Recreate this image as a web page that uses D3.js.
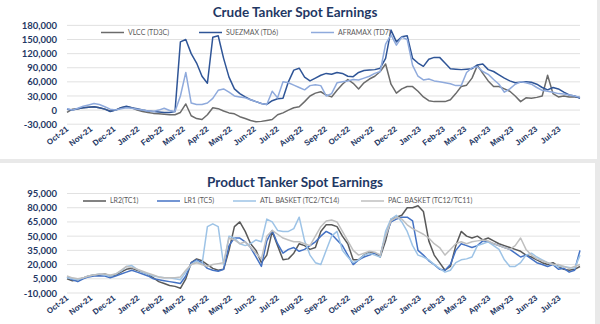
<!DOCTYPE html>
<html><head><meta charset="utf-8">
<script src="https://cdn.jsdelivr.net/npm/d3@7"></script>
<style>
html,body{margin:0;padding:0;background:#e9e9e9;}
svg{display:block;font-family:Lato,"Open Sans",sans-serif;}
</style></head><body>
<svg id="c" width="600" height="324"></svg>
<script>
// ---------- DATA (weekly, starting 1 Oct 2021) ----------
const startDate = "2021-10-01";
const endDate = "2023-07-28";
const crudeTitle = "Crude Tanker Spot Earnings";
const productTitle = "Product Tanker Spot Earnings";
const crudeSeriesNames = ["VLCC (TD3C)", "SUEZMAX (TD6)", "AFRAMAX (TD7)"];
const productSeriesNames = ["LR2(TC1)", "LR1 (TC5)", "ATL. BASKET (TC2/TC14)", "PAC. BASKET (TC12/TC11)"];
const crudeTicks = [-30000, 0, 30000, 60000, 90000, 120000, 150000, 180000];
const productTicks = [-10000, 5000, 20000, 35000, 50000, 65000, 80000, 95000];

// values in $ thousand / day
const vlcc = [-5,2,3,5,6,7,5,2,-2,0,5,7,5,0,-3,-5,-7,-8,-9,-10,-10,-5,13,-12,-18,-20,-10,5,3,-2,
  -6,-8,-14,-18,-22,-25,-24,-22,-20,-10,-6,0,5,7,18,30,36,39,32,28,42,55,65,57,45,58,66,72,82,98,
  55,36,45,50,50,40,28,20,18,18,18,22,35,50,53,68,95,78,62,50,50,45,40,30,18,26,25,27,30,74,
  35,28,30,28,28,27];
const suezmax = [2,0,3,5,6,7,5,2,-3,0,5,8,5,3,0,-2,-3,-4,-5,-5,-3,145,150,120,100,72,57,155,158,110,
  70,45,35,28,22,18,14,12,20,24,25,60,85,89,70,62,68,74,78,76,80,78,72,71,80,84,85,86,89,110,
  170,145,156,158,110,100,93,108,112,112,100,88,87,86,87,88,96,98,86,82,75,68,62,58,59,60,59,55,48,43,
  48,45,38,32,30,25];
const aframax = [3,0,4,8,11,14,12,7,2,0,3,5,4,2,0,-2,-3,0,4,-1,-3,30,80,15,12,12,15,25,42,45,
  38,30,28,26,22,18,14,12,40,26,60,58,53,48,43,52,54,52,30,35,58,60,62,65,64,68,72,78,82,140,
  160,138,155,150,95,72,64,66,62,60,58,56,52,52,80,90,92,82,76,65,55,38,45,55,60,58,55,48,42,40,
  38,35,34,32,30,27];

const lr2 = [5,3,4,6,8,9,9,10,8,9,12,15,16,14,12,10,6,2,0,-2,-3,-5,5,22,26,24,20,16,14,15,
  35,60,65,55,42,35,22,30,55,40,25,26,32,42,40,36,38,55,62,62,60,50,42,25,25,30,33,32,28,45,
  68,70,72,80,80,82,76,45,30,22,14,18,40,55,50,48,50,46,48,45,42,40,38,36,34,30,28,25,22,20,
  22,18,15,14,15,18];
const lr1 = [7,4,2,5,7,8,8,8,6,8,10,12,14,12,10,8,5,4,3,2,1,0,8,22,25,22,16,14,13,15,
  40,48,48,44,38,28,18,45,56,42,32,36,38,34,36,40,44,50,55,52,46,40,30,20,25,28,30,32,30,50,
  65,68,70,70,66,35,30,24,20,15,14,20,35,42,40,38,40,45,44,42,40,38,36,32,28,30,26,22,20,18,
  20,15,16,12,14,35];
const atl = [6,5,4,6,8,9,10,9,8,10,13,18,19,15,12,10,8,7,6,6,5,4,12,20,24,20,60,63,60,20,
  50,48,42,40,42,46,44,68,65,56,55,55,58,70,45,30,22,20,35,50,55,35,28,22,25,30,32,30,28,55,
  68,72,65,55,40,30,28,25,20,16,12,14,22,25,26,28,40,42,44,40,36,25,18,18,22,30,32,28,25,22,
  20,18,18,17,16,30];
const pac = [8,6,5,6,8,9,10,10,9,10,14,18,17,15,13,11,9,7,6,6,6,7,14,20,22,20,18,20,21,22,
  48,46,42,44,38,32,26,50,56,52,48,46,44,44,42,40,50,60,66,67,65,55,45,35,30,32,34,33,30,50,
  66,70,68,62,58,55,52,48,42,38,30,36,42,44,42,44,45,46,45,42,40,38,36,40,48,36,30,26,24,22,
  20,20,18,16,18,20];

// ---------- STYLE ----------
const navy = "#1f3864";
const crudeColors = ["#6b6b6b", "#2f5597", "#8faadc"];
const productColors = ["#595959", "#4472c4", "#9dc3e6", "#bfbfbf"];

const fmt = d3.formatLocale({decimal:".", thousands:",", grouping:[3], currency:["$",""], minus:"-"}).format(",");
const parse = d3.timeParse("%Y-%m-%d");
const t0 = parse(startDate), t1 = parse(endDate);
const weekDates = d3.range(vlcc.length).map(i => d3.timeDay.offset(t0, 7 * i));

const svg = d3.select("#c");
// panels
svg.append("rect").attr("x",0).attr("y",0).attr("width",597).attr("height",159).attr("fill","#fff");
svg.append("rect").attr("x",0).attr("y",163).attr("width",595).attr("height",161).attr("fill","#fff");

function panel(cfg) {
  const g = svg.append("g");
  const x = d3.scaleTime().domain([t0, t1]).range([67, 580]);
  const y = d3.scaleLinear().domain(cfg.domain).range(cfg.yrange);

  // gridlines
  g.append("g").selectAll("line").data(cfg.ticks).join("line")
    .attr("x1", 67).attr("x2", 580)
    .attr("y1", d => y(d)).attr("y2", d => y(d))
    .attr("stroke", "#d9d9d9").attr("stroke-width", 0.8);

  // y axis
  const ya = g.append("g").attr("transform", "translate(61,0)")
    .call(d3.axisLeft(y).tickValues(cfg.ticks).tickFormat(fmt).tickSize(0).tickPadding(4));
  ya.select(".domain").remove();
  ya.selectAll("text").attr("font-size", 9.5).attr("font-weight", 700).attr("fill", navy)
    .attr("font-family", "Lato, sans-serif");

  // x axis
  const xa = g.append("g").attr("transform", `translate(0,${cfg.yrange[0] + 4})`)
    .call(d3.axisBottom(x).ticks(d3.timeMonth.every(1)).tickFormat(d3.timeFormat("%b-%y")).tickSize(0));
  xa.select(".domain").remove();
  xa.selectAll("text").attr("font-size", 8).attr("font-weight", 700).attr("fill", navy)
    .attr("text-anchor", "end").attr("dy", "0.3em").attr("dx", 0).attr("y", 0)
    .attr("transform", "rotate(-38)");

  // title
  g.append("text").attr("x", 295).attr("y", cfg.titleY).attr("text-anchor", "middle")
    .attr("font-size", 13.5).attr("font-weight", 700).attr("fill", navy).text(cfg.title);

  // lines
  const line = d3.line().x((d, i) => x(weekDates[i])).y(d => y(d * 1000));
  cfg.series.forEach((s, k) => {
    g.append("path").datum(s).attr("d", line).attr("fill", "none")
      .attr("stroke", cfg.colors[k]).attr("stroke-width", 1.5).attr("stroke-linejoin", "round");
  });

  // legend
  cfg.names.forEach((n, k) => {
    const lx = cfg.legendX[k];
    g.append("line").attr("x1", lx).attr("x2", lx + 23).attr("y1", cfg.legendY).attr("y2", cfg.legendY)
      .attr("stroke", cfg.colors[k]).attr("stroke-width", 1.5);
    g.append("text").attr("x", lx + 27).attr("y", cfg.legendY).attr("dy", "0.35em")
      .attr("font-size", 7).attr("fill", "#595959").text(n);
  });
}

panel({
  title: crudeTitle, titleY: 17, domain: [-30000, 180000], yrange: [124.2, 25.4], ticks: crudeTicks,
  series: [vlcc, suezmax, aframax], colors: crudeColors,
  names: crudeSeriesNames, legendX: [101, 199, 311], legendY: 32.5
});
panel({
  title: productTitle, titleY: 187, domain: [-10000, 95000], yrange: [293, 193.5], ticks: productTicks,
  series: [lr2, lr1, atl, pac], colors: productColors,
  names: productSeriesNames, legendX: [83, 157, 233, 361], legendY: 201
});
</script>
</body></html>
